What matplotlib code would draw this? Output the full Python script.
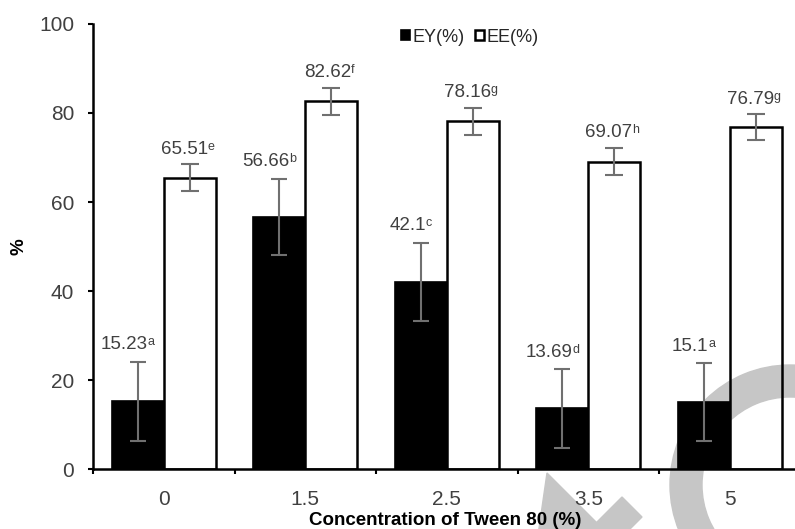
import numpy as np
import matplotlib
matplotlib.use('Agg')
import matplotlib.pyplot as plt
from matplotlib.patches import Wedge, Polygon
from matplotlib.offsetbox import TextArea, HPacker, AnnotationBbox

# Tween 80 concentration vs EY / EE
concentrations = ['0', '1.5', '2.5', '3.5', '5']
ey = [15.23, 56.66, 42.1, 13.69, 15.1]
ee = [65.51, 82.62, 78.16, 69.07, 76.79]
ey_err = [8.9, 8.6, 8.8, 8.8, 8.7]
ee_err = [3.0, 3.0, 3.0, 3.1, 2.9]
ey_letters = ['a', 'b', 'c', 'd', 'a']
ee_letters = ['e', 'f', 'g', 'h', 'g']

plt.rcParams['font.family'] = ['Liberation Sans', 'DejaVu Sans']

fig = plt.figure(figsize=(7.95, 5.29), dpi=100)
ax = fig.add_axes([0.117, 0.1128, 0.89, 0.842])
ax.set_facecolor('none')

# grey watermark behind the chart (inches from bottom-left)
wm = '#c6c6c6'
tr = fig.dpi_scale_trans
fig.add_artist(Wedge((7.90, 0.44), 1.20, 0, 360, width=0.32, color=wm,
                     transform=tr, zorder=-1))
fig.add_artist(Polygon([(5.47, 0.56), (6.30, -0.27), (5.35, -0.27)], color=wm,
                       transform=tr, zorder=-1))
fig.add_artist(Polygon([(6.22, 0.32), (6.42, 0.12), (5.95, -0.35), (5.75, -0.15)],
                       color=wm, transform=tr, zorder=-1))

x = np.arange(len(concentrations))
w = 0.367
err_col = '#707070'
ax.bar(x - w / 2, ey, w, color='black', edgecolor='black', linewidth=1.2,
       label='EY(%)', zorder=2)
ax.bar(x + w / 2, ee, w, facecolor='none', edgecolor='black', linewidth=1.8,
       label='EE(%)', zorder=2)
ax.errorbar(x - w / 2, ey, yerr=ey_err, fmt='none', ecolor=err_col,
            elinewidth=1.5, capsize=5.5, capthick=1.5, zorder=3)
ax.errorbar(x + w / 2, ee, yerr=ee_err, fmt='none', ecolor=err_col,
            elinewidth=1.5, capsize=6.5, capthick=1.5, zorder=3)


def add_label(xv, yv, num, letter, dx, dy):
    t1 = TextArea(num, textprops=dict(fontsize=13.5, color='#404040'))
    t2 = TextArea(letter, textprops=dict(fontsize=9, color='#404040'))
    box = HPacker(children=[t1, t2], align='top', pad=0, sep=0)
    ab = AnnotationBbox(box, (xv, yv), xybox=(dx, dy), xycoords='data',
                        boxcoords='offset pixels', frameon=False,
                        box_alignment=(0.5, 0.5), zorder=4)
    ax.add_artist(ab)


for i in range(len(x)):
    add_label(x[i] - w / 2, ey[i] + ey_err[i], f'{ey[i]:g}', ey_letters[i], -10, 17)
    add_label(x[i] + w / 2, ee[i] + ee_err[i], f'{ee[i]:g}', ee_letters[i], -2, 15)

ax.set_xlim(-0.5, 4.5)
ax.set_ylim(0, 100)
ax.set_xticks(x)
ax.set_xticklabels(concentrations)
ax.set_xticks(np.arange(-0.5, 5, 1), minor=True)
ax.tick_params(axis='x', which='major', length=0, pad=15, labelsize=15,
               labelcolor='#404040')
ax.tick_params(axis='x', which='minor', length=3.6, width=1.5)
ax.set_yticks(range(0, 101, 20))
ax.tick_params(axis='y', length=3.6, width=1.5, pad=10, labelsize=15,
               labelcolor='#404040')
for s in ['top', 'right']:
    ax.spines[s].set_visible(False)
for s in ['left', 'bottom']:
    ax.spines[s].set_linewidth(1.8)

ax.set_xlabel('Concentration of Tween 80 (%)', fontsize=13.5, fontweight='bold')
ax.xaxis.set_label_coords(0.498, -0.095)
ax.set_ylabel('%', fontsize=13.5, fontweight='bold')
ax.yaxis.set_label_coords(-0.092, 0.5)

fig.legend(loc='center', bbox_to_anchor=(0.591, 0.930), ncol=2, frameon=False,
           fontsize=13, handlelength=0.5, handleheight=0.5, handletextpad=0.15,
           columnspacing=0.6, labelcolor='#262626')

fig.savefig('out.png', dpi=100)
